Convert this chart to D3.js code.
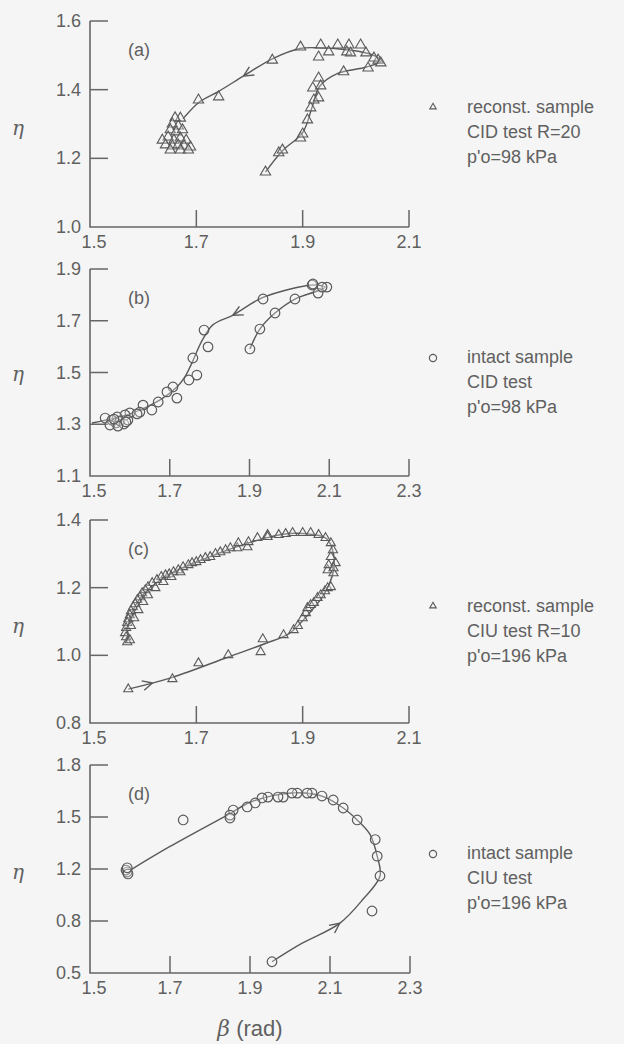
<!DOCTYPE html>
<html>
<head>
<meta charset="utf-8">
<script src="https://cdn.jsdelivr.net/npm/d3@7"></script>
<style>
  body { margin: 0; background: #f5f5f5; }
  svg { display: block; }
  text { font-family: "Liberation Sans", Arial, sans-serif; fill: #606060; }
</style>
</head>
<body>
<div id="corpo"></div>
<script>
// ---- data (beta in rad, eta) ----
var ptsA = [
  [1.830,1.160],[1.855,1.216],[1.862,1.224],[1.896,1.259],[1.900,1.271],[1.909,1.312],[1.915,1.347],
  [1.921,1.370],[1.930,1.376],[1.919,1.405],[1.930,1.434],[1.934,1.411],[1.977,1.452],[2.023,1.463],
  [2.042,1.486],[2.047,1.478],[2.034,1.492],[2.019,1.507],[2.009,1.530],[1.987,1.530],[1.983,1.510],
  [1.990,1.507],[1.966,1.530],[1.949,1.510],[1.934,1.530],[1.930,1.495],[1.896,1.524],[1.843,1.486],
  [1.742,1.379],[1.704,1.370],[1.670,1.317],
  [1.660,1.318],[1.655,1.300],[1.666,1.294],[1.651,1.283],[1.662,1.277],[1.674,1.283],[1.647,1.262],
  [1.658,1.253],[1.670,1.259],[1.681,1.253],[1.636,1.253],[1.642,1.239],[1.655,1.236],[1.666,1.239],
  [1.677,1.236],[1.689,1.233],[1.651,1.224],[1.670,1.224],[1.685,1.224]
];
var lineA = [
  [1.830,1.160],[1.862,1.222],[1.900,1.275],[1.918,1.350],[1.932,1.410],[1.965,1.447],[2.020,1.466],
  [2.048,1.484],[2.030,1.502],[1.990,1.515],[1.930,1.522],[1.895,1.520],[1.843,1.490],[1.789,1.440],
  [1.742,1.395],[1.704,1.362],[1.675,1.315]
];
var arrowA = [1.789,1.440];

var ptsB = [
  [1.901,1.591],[1.926,1.668],[1.964,1.730],[2.014,1.784],[2.072,1.807],[2.094,1.830],[2.082,1.830],
  [2.057,1.838],[2.059,1.842],[1.934,1.784],[1.786,1.664],[1.796,1.599],[1.758,1.556],[1.768,1.490],
  [1.748,1.471],[1.708,1.444],[1.693,1.425],[1.718,1.401],[1.671,1.386],[1.633,1.374],[1.655,1.355],
  [1.625,1.347],[1.600,1.344],[1.618,1.340],[1.588,1.336],[1.568,1.328],[1.538,1.324],
  [1.555,1.316],[1.565,1.305],[1.575,1.313],[1.585,1.301],[1.595,1.316],[1.550,1.297],[1.570,1.293],
  [1.590,1.309],[1.560,1.320]
];
var lineB = [
  [1.901,1.591],[1.926,1.668],[1.964,1.730],[2.014,1.784],[2.070,1.815],[2.090,1.830],[2.060,1.838],
  [1.934,1.790],[1.859,1.722],[1.808,1.684],[1.780,1.620],[1.758,1.545],[1.738,1.483],[1.718,1.444],
  [1.676,1.394],[1.608,1.344],[1.505,1.305]
];
var arrowB = [1.859,1.722];

var ptsC = [
  [1.572,0.900],[1.655,0.930],[1.704,0.977],[1.760,1.001],[1.825,1.048],[1.821,1.010],[1.864,1.060],
  [1.883,1.075],[1.891,1.087],[1.900,1.110],[1.906,1.125],[1.909,1.140],[1.915,1.149],[1.921,1.155],
  [1.928,1.170],[1.934,1.178],[1.942,1.190],[1.947,1.199],[1.953,1.202],[1.947,1.252],[1.958,1.243],
  [1.949,1.267],[1.962,1.273],[1.958,1.258],[1.953,1.291],[1.957,1.311],[1.953,1.332],[1.943,1.347],
  [1.930,1.356],[1.915,1.362],[1.900,1.362],[1.881,1.362],[1.868,1.359],[1.855,1.356],[1.834,1.356],
  [1.815,1.347],[1.796,1.320],[1.777,1.317],[1.834,1.350],[1.798,1.335],[1.779,1.332],[1.764,1.317],
  [1.755,1.311],[1.745,1.305],[1.736,1.300],[1.726,1.291],[1.717,1.288],[1.708,1.282],[1.700,1.276],
  [1.692,1.273],[1.685,1.267],[1.675,1.261],[1.666,1.252],[1.657,1.246],[1.649,1.240],[1.642,1.237],
  [1.634,1.232],[1.626,1.223],[1.617,1.214],[1.609,1.202],[1.604,1.193],[1.598,1.184],[1.594,1.172],
  [1.589,1.164],[1.585,1.152],[1.581,1.143],[1.577,1.131],[1.575,1.119],[1.572,1.107],[1.570,1.096],
  [1.568,1.081],[1.566,1.066],[1.568,1.054],[1.570,1.039],
  [1.577,1.087],[1.583,1.110],[1.591,1.134],[1.600,1.158],[1.609,1.178],[1.623,1.199],[1.638,1.217],
  [1.653,1.232],[1.670,1.246],[1.575,1.045]
];
var lineC = [
  [1.572,0.900],[1.655,0.935],[1.760,0.995],[1.830,1.035],[1.875,1.065],[1.910,1.120],[1.940,1.180],
  [1.958,1.250],[1.958,1.300],[1.945,1.345],[1.900,1.360],[1.860,1.357],[1.800,1.333],[1.720,1.288],
  [1.650,1.240],[1.600,1.180],[1.575,1.110],[1.570,1.040]
];
var arrowC = [1.617,0.921];

var ptsD = [
  [1.955,0.565],[2.205,0.877],[2.225,1.146],[2.218,1.274],[2.213,1.370],[2.168,1.483],[2.133,1.552],
  [2.108,1.598],[2.080,1.621],[2.055,1.638],[2.043,1.638],[2.018,1.638],[2.005,1.638],[1.983,1.615],
  [1.970,1.615],[1.945,1.615],[1.930,1.610],[1.913,1.581],[1.893,1.558],[1.858,1.540],[1.850,1.511],
  [1.850,1.494],[1.733,1.483],[1.593,1.177],[1.590,1.192],[1.595,1.162],[1.593,1.207]
];
var lineD = [
  [1.955,0.565],[2.025,0.665],[2.125,0.788],[2.183,0.969],[2.225,1.146],[2.218,1.274],[2.200,1.400],
  [2.168,1.483],[2.133,1.552],[2.080,1.620],[2.020,1.640],[1.960,1.625],[1.900,1.585],[1.850,1.520],
  [1.700,1.330],[1.600,1.190]
];
var arrowD = [2.125,0.788];

var ticksXa = [1.5,1.7,1.9,2.1], ticksXb = [1.5,1.7,1.9,2.1,2.3];
var ticksYa = [1.0,1.2,1.4,1.6], ticksYb = [1.1,1.3,1.5,1.7,1.9];
var ticksYc = [0.8,1.0,1.2,1.4], ticksYd = [0.5,0.8,1.2,1.5,1.8];

var legendA = ["reconst. sample", "CID test R=20", "p'o=98 kPa"];
var legendB = ["intact sample", "CID test", "p'o=98 kPa"];
var legendC = ["reconst. sample", "CIU test R=10", "p'o=196 kPa"];
var legendD = ["intact sample", "CIU test", "p'o=196 kPa"];

// ---- layout ----
var width = 624, height = 1044;
var ink = "#5a5a5a";
var panels = [
  {tag:"(a)", pts:ptsA, line:lineA, arrow:arrowA, sym:"tri", triSize:46, xt:ticksXa, yt:ticksYa, yDom:[1.0,1.6], top:21, bot:227, right:409, legend:legendA, ly:113, etaY:135},
  {tag:"(b)", pts:ptsB, line:lineB, arrow:arrowB, sym:"circ", xt:ticksXb, yt:ticksYb, yDom:[1.1,1.9], top:269, bot:476, right:409, legend:legendB, ly:363, etaY:381},
  {tag:"(c)", pts:ptsC, line:lineC, arrow:arrowC, sym:"tri", triSize:36, xt:ticksXa, yt:ticksYc, yDom:[0.8,1.4], top:520, bot:723, right:409, legend:legendC, ly:612, etaY:633},
  {tag:"(d)", pts:ptsD, line:lineD, arrow:arrowD, sym:"circ", xt:ticksXb, yt:ticksYd, yDom:null, top:765, bot:973, right:410, legend:legendD, ly:859, etaY:879}
];

var svg = d3.select("#corpo").append("svg")
    .attr("width", width)
    .attr("height", height);

var fmt = d3.format(".1f");
var triLeg = d3.symbol().type(d3.symbolTriangle).size(18);

panels.forEach(function(p){
    var x = d3.scaleLinear().domain(d3.extent(p.xt)).range([90, p.right]);
    var y;
    if(p.yDom){
        y = d3.scaleLinear().domain(p.yDom).range([p.bot, p.top]);
    } else {
        // the printed axis of (d) is not evenly graduated: ticks are equally spaced
        y = d3.scaleLinear().domain(p.yt).range(p.yt.map(function(d,i){
            return p.bot - i*(p.bot - p.top)/(p.yt.length-1);
        }));
    }

    var g = svg.append("g");

    // axes
    g.append("path")
        .attr("d", "M90," + y(p.yt[p.yt.length-1]) + "V" + p.bot + "H" + p.right)
        .attr("fill", "none").attr("stroke", "#666").attr("stroke-width", 1.6);

    g.selectAll(".yt").data(p.yt.slice(1)).enter().append("line")
        .attr("x1", 90).attr("x2", 108)
        .attr("y1", function(d){ return y(d); }).attr("y2", function(d){ return y(d); })
        .attr("stroke", "#666").attr("stroke-width", 1.5);

    g.selectAll(".xt").data(p.xt.slice(1)).enter().append("line")
        .attr("x1", function(d){ return x(d); }).attr("x2", function(d){ return x(d); })
        .attr("y1", p.bot).attr("y2", p.bot - 17)
        .attr("stroke", "#666").attr("stroke-width", 1.5);

    g.selectAll(".yl").data(p.yt).enter().append("text")
        .attr("x", 81).attr("y", function(d){ return y(d) + 6; })
        .attr("text-anchor", "end")
        .style("font-size", "18px")
        .text(fmt);

    g.selectAll(".xl").data(p.xt).enter().append("text")
        .attr("x", function(d,i){ return x(d) + (i == 0 ? 4 : 0); })
        .attr("y", p.bot + 21)
        .attr("text-anchor", "middle")
        .style("font-size", "18px")
        .text(fmt);

    // eta label
    g.append("text")
        .attr("x", 18).attr("y", p.etaY)
        .attr("text-anchor", "middle")
        .style("font-family", "'DejaVu Serif', serif")
        .style("font-style", "italic")
        .style("font-size", "20px")
        .text("η");

    g.append("text")
        .attr("x", 128).attr("y", p.top + 35)
        .style("font-size", "18px")
        .text(p.tag);

    // fitted curve
    var line = d3.line()
        .x(function(d){ return x(d[0]); })
        .y(function(d){ return y(d[1]); })
        .curve(d3.curveCatmullRom.alpha(0.5));

    var path = g.append("path")
        .attr("d", line(p.line))
        .attr("fill", "none")
        .attr("stroke", ink)
        .attr("stroke-width", 1.4);

    // arrow head on curve, nearest to the marked position
    var node = path.node(), total = node.getTotalLength();
    var tx = x(p.arrow[0]), ty = y(p.arrow[1]), best = 0, bestD = 1e9;
    for(var l = 0; l <= total; l += 1){
        var q = node.getPointAtLength(l);
        var dd = (q.x-tx)*(q.x-tx) + (q.y-ty)*(q.y-ty);
        if(dd < bestD){ bestD = dd; best = l; }
    }
    var p0 = node.getPointAtLength(Math.max(0, best-4)), p1 = node.getPointAtLength(Math.min(total, best+4));
    var ang = Math.atan2(p1.y-p0.y, p1.x-p0.x);
    var tip = node.getPointAtLength(best);
    [-0.45, 0.45].forEach(function(da){
        g.append("line")
            .attr("x1", tip.x).attr("y1", tip.y)
            .attr("x2", tip.x - 11*Math.cos(ang+da)).attr("y2", tip.y - 11*Math.sin(ang+da))
            .attr("stroke", ink).attr("stroke-width", 1.4);
    });

    // markers
    var mk = g.selectAll(".pt").data(p.pts).enter();
    if(p.sym == "tri"){
        var triSym = d3.symbol().type(d3.symbolTriangle).size(p.triSize);
        mk.append("path")
            .attr("d", triSym)
            .attr("transform", function(d){ return "translate(" + x(d[0]) + "," + y(d[1]) + ")"; })
            .attr("fill", "#f5f5f5").attr("fill-opacity", 0.3)
            .attr("stroke", ink).attr("stroke-width", 1.1);
    } else {
        mk.append("circle")
            .attr("cx", function(d){ return x(d[0]); })
            .attr("cy", function(d){ return y(d[1]); })
            .attr("r", 4.8)
            .attr("fill", "#f5f5f5").attr("fill-opacity", 0.3)
            .attr("stroke", ink).attr("stroke-width", 1.2);
    }

    // legend
    if(p.sym == "tri"){
        g.append("path").attr("d", triLeg)
            .attr("transform", "translate(433," + (p.ly - 6) + ")")
            .attr("fill", "none").attr("stroke", ink).attr("stroke-width", 1.1);
    } else {
        g.append("circle").attr("cx", 433).attr("cy", p.ly - 5).attr("r", 3.6)
            .attr("fill", "none").attr("stroke", ink).attr("stroke-width", 1.2);
    }
    g.selectAll(".lg").data(p.legend).enter().append("text")
        .attr("x", 467)
        .attr("y", function(d,i){ return p.ly + i*25; })
        .style("font-size", "18px")
        .text(function(d){ return d; });
});

// x axis title
var xt = svg.append("text")
    .attr("x", 250).attr("y", 1036)
    .attr("text-anchor", "middle")
    .style("font-size", "22px");
xt.append("tspan")
    .style("font-family", "'DejaVu Serif', serif")
    .style("font-style", "italic")
    .text("β");
xt.append("tspan").text(" (rad)");
</script>
</body>
</html>
